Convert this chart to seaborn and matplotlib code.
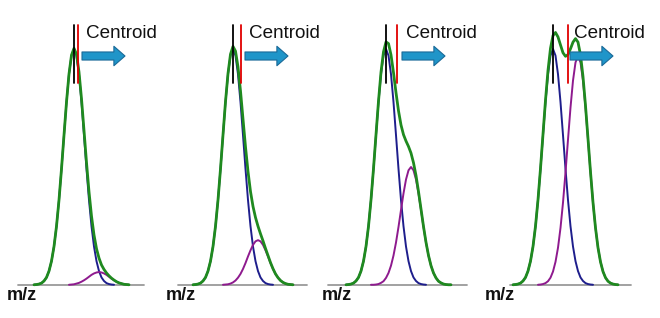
import matplotlib
matplotlib.use("Agg")
import matplotlib.pyplot as plt
import seaborn as sns
import numpy as np

# m/z offset relative to the main (blue) peak
mz = [-40, -37.5, -35, -32.5, -30, -27.5, -25, -22.5, -20, -17.5,
      -15, -12.5, -10, -7.5, -5, -2.5, 0, 2.5, 5, 7.5,
      10, 12.5, 15, 17.5, 20, 22.5, 25, 27.5, 30, 32.5,
      35, 37.5, 40, 42.5, 45, 47.5, 50, 52.5, 55, 57.5,
      60, 62.5, 65, 67.5, 70]

blue = [0.001, 0.002, 0.004, 0.008, 0.017, 0.032, 0.059, 0.101, 0.163, 0.249,
        0.360, 0.492, 0.635, 0.775, 0.893, 0.972, 1.000, 0.972, 0.893, 0.775,
        0.635, 0.492, 0.360, 0.249, 0.163, 0.101, 0.059, 0.032, 0.017, 0.008,
        0.004, 0.002, 0.001, 0, 0, 0, 0, 0, 0, 0,
        0, 0, 0, 0, 0]

purple_1 = [0, 0, 0, 0, 0, 0, 0, 0, 0, 0,
            0, 0, 0, 0, 0.001, 0.002, 0.003, 0.006, 0.009, 0.014,
            0.020, 0.027, 0.035, 0.043, 0.049, 0.053, 0.055, 0.053, 0.049, 0.043,
            0.035, 0.027, 0.020, 0.014, 0.009, 0.006, 0.003, 0.002, 0.001, 0,
            0, 0, 0, 0, 0]
purple_2 = [0, 0, 0, 0, 0, 0, 0, 0, 0, 0,
            0, 0, 0.001, 0.002, 0.003, 0.006, 0.011, 0.019, 0.031, 0.047,
            0.068, 0.093, 0.121, 0.147, 0.170, 0.185, 0.190, 0.185, 0.170, 0.147,
            0.121, 0.093, 0.068, 0.047, 0.031, 0.019, 0.011, 0.006, 0.003, 0.002,
            0.001, 0, 0, 0, 0]
purple_3 = [0, 0, 0, 0, 0, 0, 0, 0, 0, 0,
            0.001, 0.001, 0.002, 0.004, 0.009, 0.016, 0.030, 0.051, 0.082, 0.125,
            0.180, 0.246, 0.318, 0.388, 0.447, 0.486, 0.500, 0.486, 0.447, 0.388,
            0.318, 0.246, 0.180, 0.125, 0.082, 0.051, 0.030, 0.016, 0.009, 0.004,
            0.002, 0.001, 0.001, 0, 0]
purple_4 = [0, 0, 0, 0, 0, 0, 0, 0, 0, 0,
            0.001, 0.002, 0.004, 0.008, 0.016, 0.031, 0.057, 0.098, 0.158, 0.242,
            0.349, 0.477, 0.616, 0.752, 0.866, 0.943, 0.970, 0.943, 0.866, 0.752,
            0.616, 0.477, 0.349, 0.242, 0.158, 0.098, 0.057, 0.031, 0.016, 0.008,
            0.004, 0.002, 0.001, 0, 0]

green_1 = [0.001, 0.002, 0.004, 0.008, 0.017, 0.032, 0.059, 0.101, 0.163, 0.249,
           0.360, 0.492, 0.635, 0.775, 0.894, 0.974, 1.003, 0.978, 0.902, 0.789,
           0.655, 0.519, 0.395, 0.292, 0.212, 0.154, 0.114, 0.085, 0.066, 0.051,
           0.039, 0.029, 0.021, 0.014, 0.009, 0.006, 0.003, 0.002, 0.001, 0,
           0, 0, 0, 0, 0]
green_2 = [0.001, 0.002, 0.004, 0.008, 0.017, 0.032, 0.059, 0.101, 0.163, 0.249,
           0.360, 0.492, 0.636, 0.777, 0.896, 0.978, 1.011, 0.991, 0.924, 0.822,
           0.703, 0.585, 0.481, 0.396, 0.333, 0.286, 0.249, 0.217, 0.187, 0.155,
           0.125, 0.095, 0.069, 0.047, 0.031, 0.019, 0.011, 0.006, 0.003, 0.002,
           0.001, 0, 0, 0, 0]
green_3 = [0.001, 0.002, 0.004, 0.008, 0.017, 0.032, 0.059, 0.101, 0.163, 0.249,
           0.361, 0.493, 0.637, 0.779, 0.902, 0.988, 1.030, 1.023, 0.975, 0.900,
           0.815, 0.738, 0.678, 0.637, 0.610, 0.587, 0.559, 0.518, 0.464, 0.396,
           0.322, 0.248, 0.181, 0.125, 0.082, 0.051, 0.030, 0.016, 0.009, 0.004,
           0.002, 0.001, 0.001, 0, 0]
green_4 = [0.001, 0.002, 0.004, 0.008, 0.017, 0.032, 0.059, 0.101, 0.163, 0.249,
           0.361, 0.494, 0.639, 0.783, 0.909, 1.003, 1.057, 1.070, 1.051, 1.017,
           0.984, 0.969, 0.976, 1.001, 1.029, 1.044, 1.029, 0.975, 0.883, 0.760,
           0.620, 0.479, 0.350, 0.242, 0.158, 0.098, 0.057, 0.031, 0.016, 0.008,
           0.004, 0.002, 0.001, 0, 0]

purples = [purple_1, purple_2, purple_3, purple_4]
greens = [green_1, green_2, green_3, green_4]

# apex (black) and centroid (red) positions, relative m/z
apex_pos = [0, 0, 0, 0]
centroid_pos = [4, 7.5, 11, 14.5]
label_text = "Centroid"
axis_label = "m/z"

# layout (pixel-based)
W, H = 660, 318
panel_px = [74, 233, 386, 553]          # pixel x of apex per panel
base_ext = [(-56, 70), (-55, 74), (-58, 81), (-43, 78)]
mz_left = [-67, -67, -64, -68]
text_off = [12, 16, 20, 21]
arrow_off = [8, 12, 16, 17]

sns.set_theme(style="white")
plt.rcParams['font.family'] = ['Liberation Sans', 'DejaVu Sans']

fig = plt.figure(figsize=(W / 100, H / 100), dpi=100)
fig.patch.set_facecolor("white")

base_y = 285.0
unit = 236.0
ylo = (base_y - H) / unit
yhi = base_y / unit

def py(p):
    return (base_y - p) / unit

for i in range(4):
    bx = panel_px[i]
    ax = fig.add_axes([(bx - 80) / W, 0, 180 / W, 1])
    ax.set_xlim(-80, 100)
    ax.set_ylim(ylo, yhi)
    ax.set_axis_off()
    ax.patch.set_alpha(0)

    # baseline
    ax.plot(list(base_ext[i]), [0, 0], color="#9a9a9a", lw=1.3, zorder=1)

    def draw(vals, color, lw, z):
        xs = [x for x, v in zip(mz, vals) if v > 0]
        ys = [v for v in vals if v > 0]
        sns.lineplot(x=xs, y=ys, ax=ax, color=color, linewidth=lw,
                     estimator=None, sort=False, zorder=z)

    draw(blue, "#1e1e8c", 1.4, 2)
    draw(purples[i], "#8e1a8e", 1.4, 3)
    draw(greens[i], "#1f8a1f", 2.0, 4)

    # apex and centroid markers
    ax.plot([apex_pos[i]] * 2, [py(83), py(25)], color="#000000", lw=1.3, zorder=5)
    ax.plot([centroid_pos[i]] * 2, [py(83), py(25)], color="#e00000", lw=1.3, zorder=5)

    ax.text(text_off[i], py(38), label_text, fontsize=13.6, color="#111111",
            ha="left", va="baseline", clip_on=False)

    a0 = arrow_off[i]
    ya = py(56)
    ax.annotate("", xy=(a0 + 43, ya), xytext=(a0, ya),
                arrowprops=dict(arrowstyle="simple,head_length=0.8,head_width=1.4,tail_width=0.58",
                                mutation_scale=10, fc="#1f95c9", ec="#1b6a98", lw=0.8,
                                shrinkA=0, shrinkB=0), zorder=6)

    ax.text(mz_left[i], py(296), axis_label, fontsize=13, fontweight="bold",
            color="#111111", ha="left", va="center", clip_on=False)

fig.savefig("out.png", dpi=100, facecolor="white")
